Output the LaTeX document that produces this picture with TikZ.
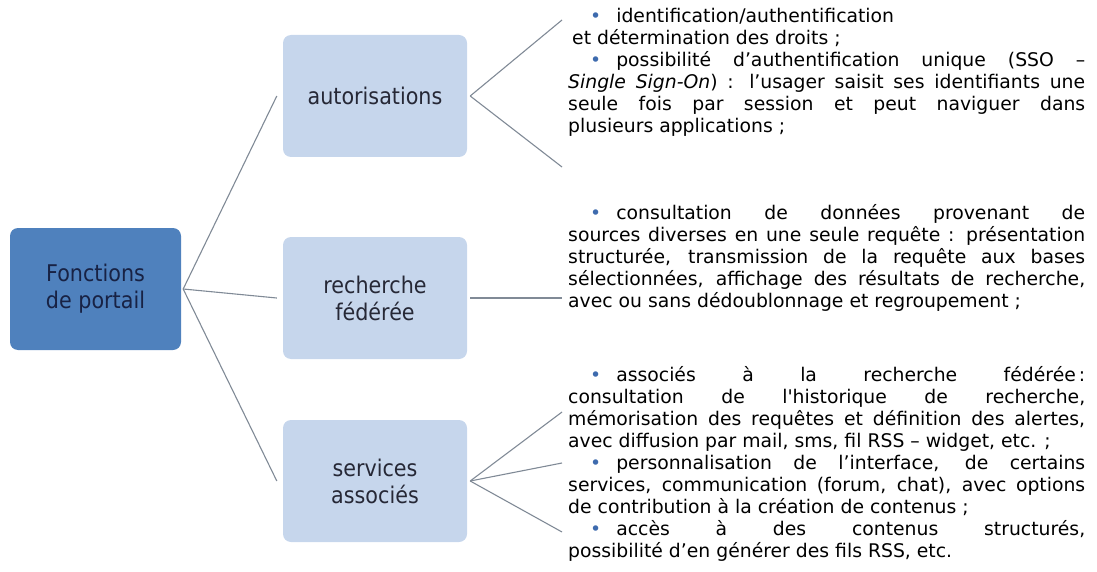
\documentclass[tikz,border=0pt]{standalone}
\usepackage{fontspec}
\setmainfont{DejaVu Sans}
\newfontfamily\boxfont[FakeStretch=0.9]{DejaVu Sans}
\definecolor{rootblue}{RGB}{79,129,189}
\definecolor{rootink}{RGB}{24,34,68}
\definecolor{leafblue}{RGB}{198,214,236}
\definecolor{leafink}{RGB}{38,40,54}
\definecolor{linegray}{RGB}{128,138,150}
\definecolor{puceblue}{RGB}{62,107,174}
\setlength{\parindent}{0pt}
\tolerance=10000
\hyphenpenalty=10000
\exhyphenpenalty=10000
\newcommand{\puce}{{\color{puceblue}\textbullet}}
\newcommand{\pucestart}{\hspace*{22pt}\puce\hspace{15pt}}
\newcommand{\firstline}{\rule{0pt}{15.4pt}}

\begin{document}
\begin{tikzpicture}[x=1pt,y=-1pt,
  mainbox/.style={fill=rootblue,rounded corners=8pt,minimum width=171pt,minimum height=122pt,align=center,text=rootink,font=\boxfont\fontsize{23}{27}\selectfont},
  subbox/.style={fill=leafblue,rounded corners=8pt,minimum width=184pt,minimum height=122pt,align=center,text=leafink,font=\boxfont\fontsize{23}{27}\selectfont},
  branch/.style={draw=linegray,line width=1.1pt},
  detail/.style={anchor=north west,inner sep=0pt,text width=517pt,align=justify,font=\fontsize{18.8}{22}\selectfont}]
\useasboundingbox (0,0) rectangle (1097,572);
\node[mainbox] (portail) at (95.5,289) {Fonctions\\de portail};
	\node[subbox] (autor) at (375,96) {autorisations};
	\node[subbox] (recher) at (375,298) {recherche\\fédérée};
	\node[subbox] (servic) at (375,481) {services\\associés};
\coordinate (a1) at (562,20);
\coordinate (a2) at (562,167);
\coordinate (r1) at (562,298);
\coordinate (s1) at (562,412);
\coordinate (s2) at (562,463);
\coordinate (s3) at (562,532);
	\draw[branch] ([xshift=2pt]portail.east) -- ([xshift=-6pt]autor.west);
	\draw[branch] ([xshift=2pt]portail.east) -- ([xshift=-6pt]recher.west);
	\draw[branch] ([xshift=2pt]portail.east) -- ([xshift=-6pt]servic.west);
	\draw[branch] ([xshift=3pt]autor.east) -- (a1);
	\draw[branch] ([xshift=3pt]autor.east) -- (a2);
	\draw[branch] ([xshift=3pt]recher.east) -- (r1);
	\draw[branch] ([xshift=3pt]servic.east) -- (s1);
	\draw[branch] ([xshift=3pt]servic.east) -- (s2);
	\draw[branch] ([xshift=3pt]servic.east) -- (s3);
\node[detail] (txtautor) at (568,6.6) {\firstline\pucestart identification/authentification\par
	\hspace*{4pt}et détermination des droits ;\par
	\pucestart possibilité d’authentification unique (SSO –\linebreak
	\textit{Single Sign-On}) : l’usager saisit ses identifiants une\linebreak
	seule fois par session et peut naviguer dans\linebreak
	plusieurs applications ;};
\node[detail] (txtrecher) at (568,203.6) {\firstline\pucestart consultation de données provenant de\linebreak
	sources diverses en une seule requête : présentation\linebreak
	structurée, transmission de la requête aux bases\linebreak
	sélectionnées, affichage des résultats de recherche,\linebreak
	avec ou sans dédoublonnage et regroupement ;};
\node[detail] (txtservic) at (568,365.6) {\firstline\pucestart associés à la recherche fédérée\hspace{3pt}:\linebreak
	consultation de l\textquotesingle historique de recherche,\linebreak
	mémorisation des requêtes et définition des alertes,\linebreak
	avec diffusion par mail, sms, fil RSS – widget, etc. ;\par
	\pucestart personnalisation de l’interface, de certains\linebreak
	services, communication (forum, chat), avec options\linebreak
	de contribution à la création de contenus ;\par
	\pucestart accès à des contenus structurés,\linebreak
	possibilité d’en générer des fils RSS, etc.};
\end{tikzpicture}
\end{document}
